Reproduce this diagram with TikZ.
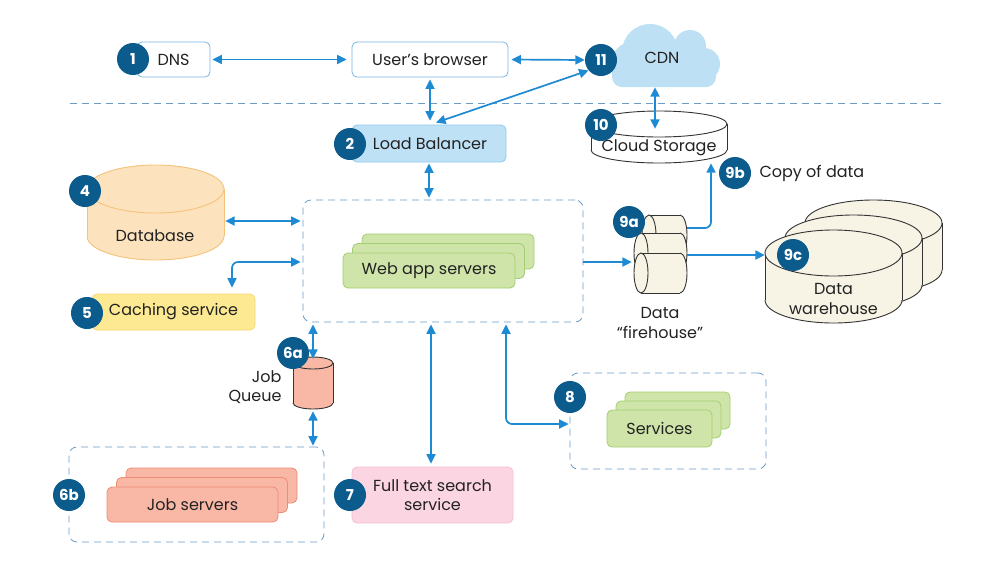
\documentclass[tikz,border=0pt]{standalone}
\usepackage{fontspec}
\setmainfont{Poppins}
\usetikzlibrary{arrows.meta}
\definecolor{arrc}{HTML}{1E8AD3}
\definecolor{dashc}{HTML}{6B9DC8}
\definecolor{badgec}{HTML}{0C5B8D}
\definecolor{txt}{HTML}{222222}
\definecolor{brline}{HTML}{79B8E3}
\definecolor{lbfill}{HTML}{BFE1F6}
\definecolor{lbline}{HTML}{93C9EC}
\definecolor{gfill}{HTML}{CFE4A9}
\definecolor{gline}{HTML}{A3CF72}
\definecolor{sfill}{HTML}{F9B7A6}
\definecolor{sline}{HTML}{EF8C76}
\definecolor{pfill}{HTML}{FCD5E2}
\definecolor{pline}{HTML}{F5C0D3}
\definecolor{yfill}{HTML}{FDE992}
\definecolor{yline}{HTML}{F7D770}
\definecolor{dbfill}{HTML}{FDE3BD}
\definecolor{dbline}{HTML}{F4C27A}
\definecolor{cream}{HTML}{F7F4E6}
\definecolor{cylc}{HTML}{333333}
\definecolor{cdnfill}{HTML}{BEE0F5}
\pgfdeclarelayer{front}
\pgfsetlayers{main,front}
\newcommand{\vcyl}[7]{%
  \fill[#6] (#1-#4,#2) rectangle (#1+#4,#3);
  \fill[#6] (#1,#3) ellipse [x radius=#4pt, y radius=#5pt];
  \begin{scope}
    \clip (#1-#4-3,#3) rectangle (#1+#4+3,#3+#5+3);
    \draw[#7, line width=0.9pt] (#1,#3) ellipse [x radius=#4pt, y radius=#5pt];
  \end{scope}
  \draw[#7, line width=0.9pt] (#1-#4,#2) -- (#1-#4,#3) (#1+#4,#2) -- (#1+#4,#3);
  \filldraw[fill=#6, draw=#7, line width=0.9pt] (#1,#2) ellipse [x radius=#4pt, y radius=#5pt];
}
\newcommand{\hcyl}[5]{%
  \fill[cream] (#1,#3-#5) rectangle (#2,#3+#5);
  \begin{scope}
    \clip (#2,#3-#5-3) rectangle (#2+#4+3,#3+#5+3);
    \filldraw[fill=cream, draw=cylc, line width=0.9pt] (#2,#3) ellipse [x radius=#4pt, y radius=#5pt];
  \end{scope}
  \draw[cylc, line width=0.9pt] (#1,#3-#5) -- (#2,#3-#5) (#1,#3+#5) -- (#2,#3+#5);
  \filldraw[fill=cream, draw=cylc, line width=0.9pt] (#1,#3) ellipse [x radius=#4pt, y radius=#5pt];
}
\tikzset{
  every node/.append style={text=txt},
  badge/.style={circle, fill=badgec, text=white, inner sep=0pt, minimum size=32pt, font=\fontsize{15}{15}\selectfont\bfseries},
  arr/.style={draw=arrc, line width=1.7pt, {Triangle[length=9.5pt,width=9pt]}-{Triangle[length=9.5pt,width=9pt]}},
  arrone/.style={draw=arrc, line width=1.7pt, -{Triangle[length=9.5pt,width=9pt]}},
  wbox/.style={draw=brline, fill=white, rounded corners=5pt, line width=0.8pt, inner sep=0pt},
  gbox/.style={draw=gline, fill=gfill, rounded corners=5pt, line width=0.8pt, inner sep=0pt},
  sbox/.style={draw=sline, fill=sfill, rounded corners=5pt, line width=0.8pt, inner sep=0pt},
  dbox/.style={draw=dashc, dash pattern=on 7pt off 5pt, rounded corners=8pt, line width=0.8pt, inner sep=0pt},
  ghost/.style={inner sep=0pt}
}
\begin{document}
\begin{tikzpicture}[x=1pt,y=-1pt, font=\fontsize{16}{19.5}\selectfont]
\useasboundingbox (0,0) rectangle (985,574);
\fill[white] (0,0) rectangle (985,574);

% separator
\draw[dashc, line width=0.8pt, dash pattern=on 7pt off 5pt] (70,103) -- (945,103);

% CDN cloud
\fill[cdnfill] (650,52) circle (28pt) (632,62) circle (20pt) (690,46) circle (16pt) (704,64) circle (16pt);
\fill[cdnfill, rounded corners=10pt] (612,58) rectangle (716,87);
\node[ghost, minimum width=120pt, minimum height=70pt] (cdn) at (660,52) {};
\node (cdnt) at (662,58) {CDN};

% badges (front layer)
\begin{pgfonlayer}{front}
\node[badge] (b1) at (133,59) {1};
\node[badge] (b2) at (350,144) {2};
\node[badge] (b4) at (85,191) {4};
\node[badge] (b5) at (87,313) {5};
\node[badge] (b6a) at (293,353) {6a};
\node[badge] (b6b) at (69,495) {6b};
\node[badge] (b7) at (350,495) {7};
\node[badge] (b8) at (570,397) {8};
\node[badge] (b9a) at (629,222) {9a};
\node[badge] (b9b) at (735,173) {9b};
\node[badge] (b9c) at (793,255) {9c};
\node[badge] (b10) at (601,125) {10};
\node[badge] (b11) at (601,60) {11};
\end{pgfonlayer}

% top boxes
\node[wbox, minimum width=73pt, minimum height=35pt] (dns) at (173.5,59.5) {DNS};
\node[wbox, minimum width=156pt, minimum height=35pt] (br) at (430,59.5) {User’s browser};
\node[draw=lbline, fill=lbfill, rounded corners=5pt, line width=0.8pt, inner sep=0pt, minimum width=154pt, minimum height=37pt] (lb) at (429,143.5) {\hspace*{2pt}Load Balancer};

% cloud storage
\vcyl{659}{124}{150}{68}{13}{white}{cylc}
\node[ghost, minimum width=136pt, minimum height=52pt] (cs) at (659,137) {};
\node (cst) at (659,148) {Cloud Storage};
\node[anchor=west] (copy) at (756,173) {Copy of data};

% database
\vcyl{155.5}{189}{236}{68.5}{24}{dbfill}{dbline}
\node[ghost, minimum width=137pt, minimum height=95pt] (db) at (155.5,212.5) {};
\node (dbt) at (155,236) {Database};

% caching
\node[draw=yline, fill=yfill, rounded corners=5pt, line width=0.8pt, inner sep=0pt, minimum width=163pt, minimum height=36pt] (cache) at (173.5,312) {Caching service};

% web app area
\node[dbox, minimum width=280pt, minimum height=122pt] (web) at (443,261) {};
\node[gbox, minimum width=172pt, minimum height=35pt] (wa3) at (448,251.5) {};
\node[gbox, minimum width=172pt, minimum height=35pt] (wa2) at (438.5,261) {};
\node[gbox, minimum width=172pt, minimum height=35pt] (wa1) at (429,270.5) {Web app servers};

% job queue
\vcyl{313}{363}{403}{20}{6}{sfill}{cylc}
\node[ghost, minimum width=40pt, minimum height=52pt] (queue) at (313,383) {};
\node[anchor=east, align=right] (qt) at (285,387) {Job\\Queue};

% job servers
\node[dbox, minimum width=255pt, minimum height=95pt] (jobs) at (196.5,494.5) {};
\node[sbox, minimum width=171pt, minimum height=35pt] (js3) at (211.5,485.5) {};
\node[sbox, minimum width=171pt, minimum height=35pt] (js2) at (202,495) {};
\node[sbox, minimum width=171pt, minimum height=35pt] (js1) at (192.5,504.5) {Job servers};

% full text search
\node[draw=pline, fill=pfill, rounded corners=5pt, line width=0.8pt, inner sep=0pt, minimum width=161pt, minimum height=56pt, align=center] (fts) at (432.5,495) {Full text search\\service};

% services
\node[dbox, minimum width=196pt, minimum height=96pt] (svc) at (668,421) {};
\node[gbox, minimum width=105pt, minimum height=37pt] (sv3) at (677.5,410.5) {};
\node[gbox, minimum width=105pt, minimum height=37pt] (sv2) at (668.5,419.5) {};
\node[gbox, minimum width=105pt, minimum height=37pt] (sv1) at (659.5,428.5) {Services};

% firehouse
\hcyl{649}{680}{235}{7}{20}
\hcyl{641}{680}{253}{7}{20}
\hcyl{641}{680}{273}{7}{20}
\node[ghost, minimum width=54pt, minimum height=78pt] (fh) at (660,254) {};
\node[align=center] (fhtx) at (660,323) {Data\\“firehouse”};

% warehouse
\vcyl{873.5}{223}{270}{68.5}{23}{cream}{cylc}
\vcyl{853.5}{238}{285}{68.5}{23}{cream}{cylc}
\vcyl{833.5}{253}{300}{68.5}{23}{cream}{cylc}
\node[ghost, minimum width=137pt, minimum height=93pt] (wh) at (833.5,276.5) {};
\node[align=center] (wht) at (833.5,299) {Data\\warehouse};

% connectors
\draw[arr, shorten <=2pt, shorten >=5pt] (dns.east) -- (br.west);
\draw[arr, shorten <=3pt] (br.east) -- (b11.west);
\draw[arr, shorten <=2pt, shorten >=4pt] (br.south) -- (br.south |- lb.north);
\draw[arr] (b11.220) -- ([xshift=7pt, yshift=2pt]lb.north);
\coordinate (csin) at ([xshift=-4pt, yshift=-18pt]cs.north);
\draw[arr] ([xshift=-5pt]cdn.south) -- (csin);
\draw[arr, shorten <=1pt, shorten >=2pt] (lb.south) -- (lb.south |- web.north);
\coordinate (dbr) at ([yshift=-8.5pt]db.east);
\draw[arr, shorten <=1pt, shorten >=2pt] (dbr) -- (dbr -| web.west);
\coordinate (cn) at ([xshift=58.5pt]cache.north);
\draw[arr, rounded corners=6pt, shorten <=2pt, shorten >=6pt] ([yshift=-1pt]web.west) -| (cn);
\draw[arr, shorten <=2pt] (web.south -| queue.north) -- ([yshift=-2pt]queue.north);
\draw[arr, shorten <=2pt, shorten >=1pt] (queue.south) -- (queue.south |- jobs.north);
\coordinate (wf) at ([xshift=-1.5pt]fts.north |- web.south);
\draw[arr, shorten <=2pt, shorten >=3pt] (wf) -- ([xshift=-1.5pt]fts.north);
\coordinate (ws) at ([xshift=63pt]web.south);
\draw[arr, rounded corners=6pt, shorten <=2pt, shorten >=1pt] (ws) |- ([yshift=-3pt]svc.west);
\coordinate (wfh) at ([yshift=-1pt]web.east);
\draw[arrone, shorten >=1pt] (wfh) -- (wfh -| fh.west);
\coordinate (fhr) at ([yshift=-1pt]fh.east);
\draw[arrone] (fhr) -- (fhr -| wh.west);
\coordinate (fhtop) at ([yshift=26pt]fh.east);
\coordinate (csb) at ([xshift=52pt]cs.south);
\draw[arrone, rounded corners=6pt] (fhtop) -| (csb);
\end{tikzpicture}
\end{document}
